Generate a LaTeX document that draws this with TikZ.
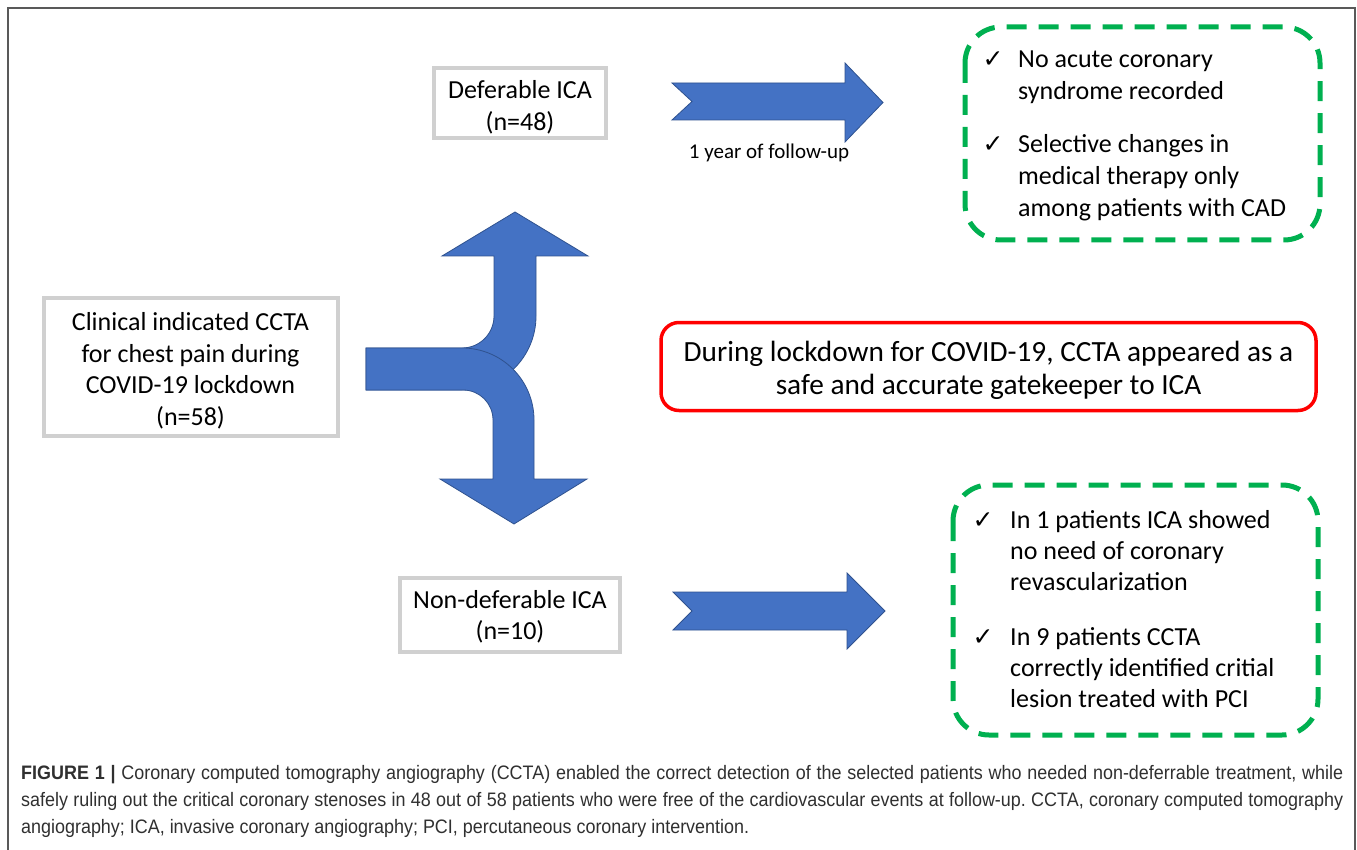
\documentclass[tikz,border=0pt]{standalone}
\usepackage{fontspec}
\setmainfont{Carlito}
\newfontfamily\capfont{Liberation Sans}
\newfontfamily\symfont{DejaVu Sans}
\definecolor{arrowblue}{HTML}{4472C4}
\definecolor{arrowedge}{HTML}{2F528F}
\definecolor{dashgreen}{HTML}{00B050}
\definecolor{boxgray}{HTML}{D0D0D0}
\definecolor{framegray}{HTML}{595959}
\definecolor{captext}{HTML}{303030}
\frenchspacing
\tikzset{
  graybox/.style={draw=boxgray, line width=4pt, fill=white, inner sep=0pt},
  boxtext/.style={align=center, inner sep=0pt, font=\fontsize{26}{31.5}\selectfont},
  bluearrow/.style={fill=arrowblue, draw=arrowedge, line width=0.8pt},
  greendash/.style={draw=dashgreen, line width=5pt, dash pattern=on 20pt off 12pt, rounded corners=36pt},
  bodytext/.style={anchor=base west, inner sep=0pt, font=\fontsize{26}{32}\selectfont},
  tick/.style={anchor=base, inner sep=0pt, font=\symfont\fontsize{25}{28}\selectfont},
  captext/.style={anchor=base west, inner sep=0pt, text=captext, font=\capfont\fontsize{19.5}{22}\selectfont},
}
\newcommand{\capline}[1]{\scalebox{0.92}[1]{\makebox[1437pt][s]{#1}}}
\begin{document}
\begin{tikzpicture}[x=1pt,y=-1pt]
\useasboundingbox (0,0) rectangle (1357,850);
\fill[white] (0,0) rectangle (1357,850);
% frame
\draw[framegray, line width=2pt] (8,851) -- (8,8) -- (1355,8) -- (1355,851);

% boxes
\node[graybox, minimum width=294pt, minimum height=137pt] (ccta) at (190.5,367) {};
\node[boxtext] (cctatext) at (190.5,371)
  {Clinical indicated CCTA\\for chest pain during\\COVID-19 lockdown\\(n=58)};
\node[graybox, minimum width=172pt, minimum height=70pt] (defer) at (520,103.5) {};
\node[boxtext] (defertext) at (520,107.5) {Deferable ICA\\(n=48)};
\node[graybox, minimum width=220pt, minimum height=74pt] (nondefer) at (510,615) {};
\node[boxtext] (nondefertext) at (510,617) {Non-deferable ICA\\(n=10)};

% split arrow: upward branch
\draw[bluearrow] (366,348) -- (462,348) .. controls (479.7,348) and (494,333.7) .. (494,316)
  -- (494,256) -- (442,256) -- (515,212) -- (588,256) -- (536,256) -- (536,316)
  .. controls (536,356.9) and (502.9,390) .. (462,390) -- (366,390) -- cycle;
% split arrow: downward branch
\draw[bluearrow] (366,348) -- (462,348) .. controls (501.8,348) and (534,380.2) .. (534,420)
  -- (534,479) -- (587,479) -- (514,524) -- (440,479) -- (493,479) -- (493,420)
  .. controls (493,403.4) and (479.6,390) .. (463,390) -- (366,390) -- cycle;

% notched arrows
\draw[bluearrow] (672,83) -- (845,83) -- (845,63) -- (883,102.5) -- (845,142) -- (845,120)
  -- (672,120) -- (692,101.5) -- cycle;
\node[inner sep=0pt, anchor=base, font=\fontsize{21}{24}\selectfont] (fu) at (769,159) {1 year of follow-up};
\draw[bluearrow] (673,592) -- (847,592) -- (847,573) -- (885,611) -- (847,649) -- (847,630)
  -- (673,630) -- (692,611) -- cycle;

% red key box
\node[draw=red, line width=3.5pt, rounded corners=18pt, minimum width=655pt, minimum height=88pt,
  inner sep=0pt] (key) at (988.5,366.5) {};
\node[align=center, inner sep=0pt, font=\fontsize{29.3}{33}\selectfont] (keytext) at (988.5,370)
  {During lockdown for COVID-19, CCTA appeared as a\\safe and accurate gatekeeper to ICA};

% green dashed boxes
\draw[greendash] (965,27) rectangle (1320,240);
\draw[greendash] (953,485) rectangle (1318,735);

% top green text
\node[tick] (t1) at (993,68) {✓};
\node[bodytext] (a1) at (1018,68) {No acute coronary};
\node[bodytext] (a2) at (1018,100) {syndrome recorded};
\node[tick] (t2) at (993,153) {✓};
\node[bodytext] (a3) at (1018,153) {Selective changes in};
\node[bodytext] (a4) at (1018,185) {medical therapy only};
\node[bodytext] (a5) at (1018,217) {among patients with CAD};

% bottom green text
\node[tick] (t3) at (983,528) {✓};
\node[bodytext] (b1) at (1010,528) {In 1 patients ICA showed};
\node[bodytext] (b2) at (1010,559) {no need of coronary};
\node[bodytext] (b3) at (1010,590) {revascularization};
\node[tick] (t4) at (983,645) {✓};
\node[bodytext] (b4) at (1010,645) {In 9 patients CCTA};
\node[bodytext] (b5) at (1010,676) {correctly identified critial};
\node[bodytext] (b6) at (1010,707) {lesion treated with PCI};

% caption
\node[captext] (c1) at (21,779) {\capline{\textbf{FIGURE 1 |} Coronary computed tomography angiography (CCTA) enabled the correct detection of the selected patients who needed non-deferrable treatment, while}};
\node[captext] (c2) at (21,806) {\capline{safely ruling out the critical coronary stenoses in 48 out of 58 patients who were free of the cardiovascular events at follow-up. CCTA, coronary computed tomography}};
\node[captext] (c3) at (21,833) {\scalebox{0.92}[1]{angiography; ICA, invasive coronary angiography; PCI, percutaneous coronary intervention.}};
\end{tikzpicture}
\end{document}
